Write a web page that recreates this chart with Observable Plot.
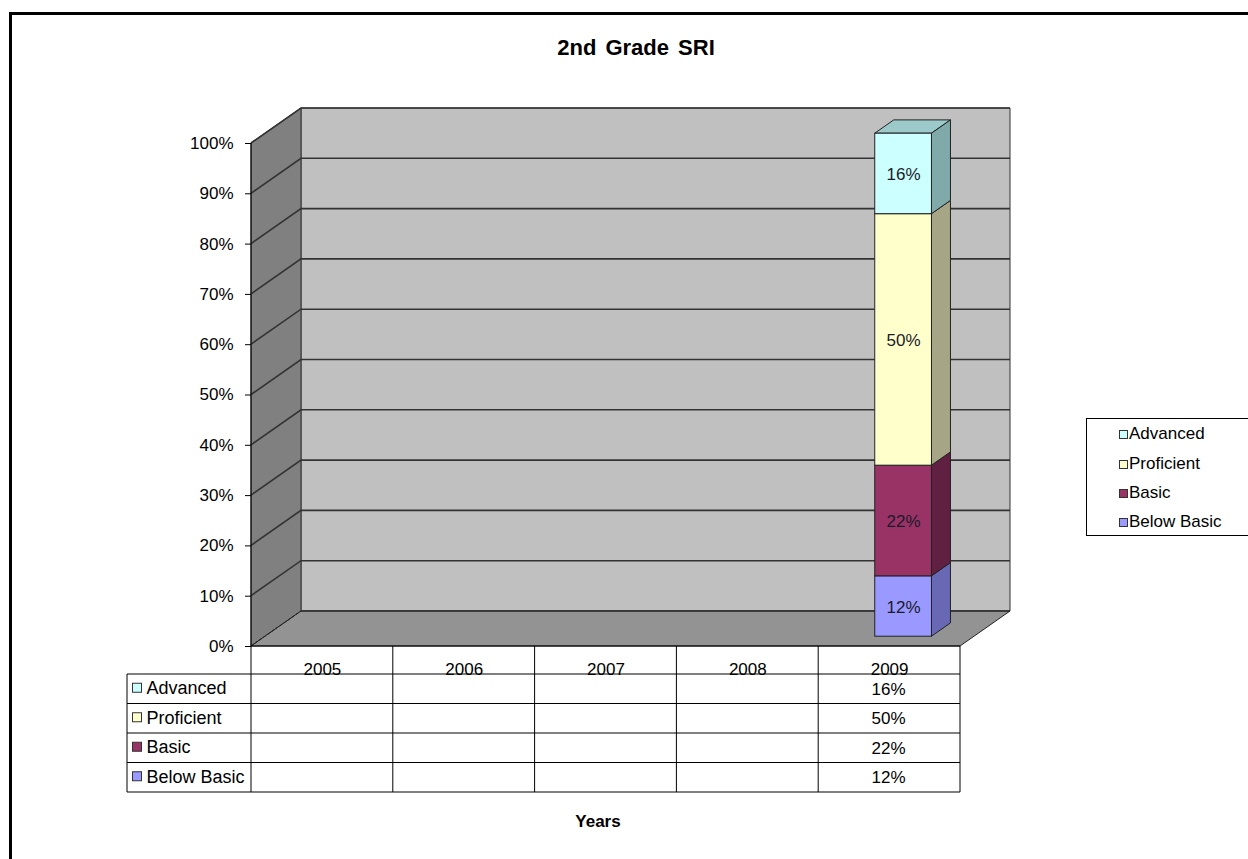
<!DOCTYPE html>
<html>
<head>
<meta charset="utf-8">
<script src="https://cdn.jsdelivr.net/npm/d3@7"></script>
<script src="https://cdn.jsdelivr.net/npm/@observablehq/plot@0.6"></script>
<style>
  html, body { margin: 0; padding: 0; background: #fff; }
  body { font-family: "Liberation Sans", Arial, sans-serif; color: #000; }
  #wrap { position: relative; width: 1248px; height: 859px; overflow: hidden; }
  #frame { position: absolute; left: 9px; top: 12px; width: 1400px; height: 1000px;
           border-top: 3px solid #000; border-left: 3px solid #000; box-sizing: border-box; }
  #chart { position: absolute; left: 0; top: 0; }
  #title { position: absolute; left: 436px; width: 400px; top: 37px; text-align: center;
           font-weight: bold; font-size: 22px; line-height: 22px; word-spacing: 3px; }
  #xlabel { position: absolute; left: 498px; width: 200px; top: 813px; text-align: center;
            font-weight: bold; font-size: 17px; line-height: 17px; }
  #legend { position: absolute; left: 1086px; top: 418px; width: 220px; height: 118px;
            border: 1px solid #000; box-sizing: border-box; background: #fff; }
  .li { position: absolute; left: 32px; font-size: 17px; line-height: 18px; white-space: nowrap; }
  .li .k { display: inline-block; width: 7px; height: 7px; border: 1px solid #333;
           margin-right: 1px; vertical-align: 0px; }
</style>
</head>
<body>
<div id="wrap">
  <div id="frame"></div>
  <div id="chart"></div>
  <div id="title">2nd Grade SRI</div>
  <div id="xlabel">Years</div>
  <div id="legend"></div>
</div>
<script>
// ---------------- data ----------------
const years = ["2005", "2006", "2007", "2008", "2009"];
const levels = ["Below Basic", "Basic", "Proficient", "Advanced"]; // stack order, bottom -> top
const belowBasic = [null, null, null, null, 0.12];
const basic      = [null, null, null, null, 0.22];
const proficient = [null, null, null, null, 0.50];
const advanced   = [null, null, null, null, 0.16];
const yTicks = [0, 0.1, 0.2, 0.3, 0.4, 0.5, 0.6, 0.7, 0.8, 0.9, 1];
const chartTitle = "2nd Grade SRI";
const xTitle = "Years";

// ---------------- styles ----------------
const FRONT = {"Below Basic": "#9999FF", "Basic": "#993366", "Proficient": "#FFFFCC", "Advanced": "#CCFFFF"};
const SIDE  = {"Below Basic": "#6868B4", "Basic": "#5F2042", "Proficient": "#A6A686", "Advanced": "#80A9A9"};
const TOP   = {"Below Basic": "#7C7CD6", "Basic": "#7A2A52", "Proficient": "#CFCFA6", "Advanced": "#9CC9C9"};
const WALL = {dx: 50, dy: -35};          // 3-D depth of the plot box in pixels
const BAR = {front: 0.28, back: 0.66};    // bar depth as a fraction of the box depth
const TABLE = {top: 28, row: 29.5, left: 124};  // data-table offsets below / left of the plot
const pct = d3.format(".0%");

const seriesValues = [belowBasic, basic, proficient, advanced];
const rows = levels.flatMap((level, li) =>
  years.map((year, yi) => ({level, year, value: seriesValues[li][yi]}))
).filter(d => d.value != null);
const tableLevels = levels.slice().reverse(); // Advanced first

function bw(s) { return typeof s.bandwidth === "function" ? s.bandwidth() : s.bandwidth; }
function st(s) { return typeof s.step === "function" ? s.step() : s.step; }
const poly = pts => "M" + pts.map(p => p.join(",")).join("L") + "Z";

// walls, floor and gridlines
function walls(index, scales) {
  const {x, y} = scales;
  const [x0, x1] = x.range();
  const y0 = y(0), y1 = y(1);
  const {dx, dy} = WALL;
  const g = d3.create("svg:g");
  g.append("path").attr("d", poly([[x0 + dx, y1 + dy], [x1 + dx, y1 + dy], [x1 + dx, y0 + dy], [x0 + dx, y0 + dy]]))
    .attr("fill", "#C0C0C0").attr("stroke", "#333").attr("stroke-width", 1);
  g.append("path").attr("d", poly([[x0, y0], [x0, y1], [x0 + dx, y1 + dy], [x0 + dx, y0 + dy]]))
    .attr("fill", "#808080").attr("stroke", "#333").attr("stroke-width", 1);
  g.append("path").attr("d", poly([[x0, y0], [x0 + dx, y0 + dy], [x1 + dx, y0 + dy], [x1, y0]]))
    .attr("fill", "#939393").attr("stroke", "#222").attr("stroke-width", 1);
  for (const t of yTicks) {
    const yy = y(t);
    if (t === 0) {
      g.append("line").attr("x1", x0).attr("y1", yy).attr("x2", x0 + dx).attr("y2", yy + dy)
        .attr("stroke", "#222").attr("stroke-dasharray", "3,2");
      g.append("line").attr("x1", x0 + dx).attr("y1", yy + dy).attr("x2", x1 + dx).attr("y2", yy + dy)
        .attr("stroke", "#333").attr("stroke-width", 1.5);
      continue;
    }
    g.append("path").attr("d", `M${x0},${yy}L${x0 + dx},${yy + dy}L${x1 + dx},${yy + dy}`)
      .attr("fill", "none").attr("stroke", "#333").attr("stroke-width", 1.6);
  }
  // axis line
  g.append("line").attr("x1", x0).attr("x2", x0).attr("y1", y1).attr("y2", y0).attr("stroke", "#000");
  return g.node();
}

// 3-D stacked bars
function bars3d(index, scales, values) {
  const w = bw(scales.x);
  const fdx = WALL.dx * BAR.front, fdy = WALL.dy * BAR.front;
  const ddx = WALL.dx * (BAR.back - BAR.front), ddy = WALL.dy * (BAR.back - BAR.front);
  const g = d3.create("svg:g");
  const order = Array.from(index).sort((a, b) =>
    Math.max(values.y1[b], values.y2[b]) - Math.max(values.y1[a], values.y2[a]));
  for (const i of order) {
    const lv = rows[i].level;
    const xa = values.x[i] + fdx, xb = xa + w;
    const yb = Math.max(values.y1[i], values.y2[i]) + fdy;
    const yt = Math.min(values.y1[i], values.y2[i]) + fdy;
    g.append("path").attr("d", poly([[xa, yt], [xb, yt], [xb + ddx, yt + ddy], [xa + ddx, yt + ddy]]))
      .attr("fill", TOP[lv]).attr("stroke", "#222").attr("stroke-width", 1);
    g.append("path").attr("d", poly([[xb, yt], [xb + ddx, yt + ddy], [xb + ddx, yb + ddy], [xb, yb]]))
      .attr("fill", SIDE[lv]).attr("stroke", "#222").attr("stroke-width", 1);
    g.append("rect").attr("x", xa).attr("y", yt).attr("width", w).attr("height", yb - yt)
      .attr("fill", FRONT[lv]).attr("stroke", "#222").attr("stroke-width", 1);
  }
  return g.node();
}

// data table grid and keys
function tableGrid(index, scales) {
  const {x, y} = scales;
  const [x0, x1] = x.range();
  const y0 = y(0);
  const half = (st(x) - bw(x)) / 2;
  const top = y0 + TABLE.top, bottom = top + TABLE.row * tableLevels.length;
  const g = d3.create("svg:g").attr("stroke", "#000").attr("stroke-width", 1);
  g.append("line").attr("x1", x0).attr("x2", x1).attr("y1", y0).attr("y2", y0);
  const edges = years.map(yr => x(yr) - half).concat([x1]);
  for (const e of edges) g.append("line").attr("x1", e).attr("x2", e).attr("y1", y0).attr("y2", bottom);
  g.append("line").attr("x1", x0 - TABLE.left).attr("x2", x0 - TABLE.left).attr("y1", top).attr("y2", bottom);
  for (let k = 0; k <= tableLevels.length; k++) {
    const yy = top + k * TABLE.row;
    g.append("line").attr("x1", x0 - TABLE.left).attr("x2", x1).attr("y1", yy).attr("y2", yy);
  }
  tableLevels.forEach((lv, k) => {
    const cy = top + (k + 0.5) * TABLE.row;
    g.append("rect").attr("x", x0 - TABLE.left + 5.5).attr("y", cy - 5.5).attr("width", 9).attr("height", 9)
      .attr("fill", FRONT[lv]).attr("stroke", "#333");
  });
  return g.node();
}

const marks = [
  walls,
  Plot.barY(rows, {x: "year", y: "value", fill: d => FRONT[d.level], render: bars3d}),
  Plot.text(rows, Plot.stackY({x: "year", y: "value", text: d => pct(d.value),
    dx: WALL.dx * BAR.front, dy: WALL.dy * BAR.front + 1, fill: "#1a1a2a", fontSize: 17})),
  Plot.axisY(yTicks, {tickFormat: pct, tickSize: 6, tickPadding: 12, fontSize: 17, label: null, stroke: "#000"}),
  tableGrid,
  Plot.text(years, {x: d => d, text: d => d, frameAnchor: "bottom", lineAnchor: "middle", dy: 23, fontSize: 17})
];
tableLevels.forEach((lv, k) => {
  const cy = TABLE.top + (k + 0.5) * TABLE.row;
  marks.push(Plot.text([lv], {text: d => d, frameAnchor: "bottom-left", lineAnchor: "middle",
    dx: -TABLE.left + 19, dy: cy - 1, textAnchor: "start", fontSize: 18}));
  marks.push(Plot.text(rows.filter(d => d.level === lv), {x: "year", text: d => pct(d.value),
    frameAnchor: "bottom", lineAnchor: "middle", dx: -1, dy: cy, fontSize: 17}));
});

const chart = Plot.plot({
  width: 1248, height: 859,
  marginLeft: 251, marginRight: 288, marginTop: 143, marginBottom: 213,
  style: {fontFamily: "'Liberation Sans', Arial, sans-serif", fontSize: "17px", background: "transparent", overflow: "visible"},
  x: {type: "band", domain: years, paddingInner: 0.6, paddingOuter: 0.3, round: false, axis: null},
  y: {domain: [0, 1], axis: null},
  marks
});
document.getElementById("chart").append(chart);
document.getElementById("title").textContent = chartTitle;
document.getElementById("xlabel").textContent = xTitle;

// legend
const legend = document.getElementById("legend");
const legendY = [15, 44.5, 74, 103];
tableLevels.forEach((lv, k) => {
  const d = document.createElement("div");
  d.className = "li";
  d.style.top = (legendY[k] - 9) + "px";
  d.innerHTML = `<span class="k" style="background:${FRONT[lv]}"></span>`;
  d.append(document.createTextNode(lv));
  legend.append(d);
});
</script>
</body>
</html>
